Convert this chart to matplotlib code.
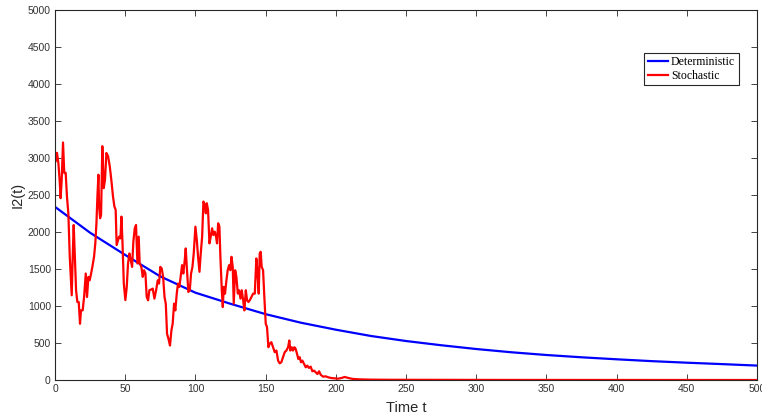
import numpy as np
import matplotlib
matplotlib.use('Agg')
import matplotlib.pyplot as plt

# deterministic curve, read every 25 time units
t_det = [0, 25, 50, 75, 100, 125, 150, 175, 200, 225, 250, 275, 300,
         325, 350, 375, 400, 425, 450, 475, 500]
i2_det = [2340, 1990, 1690, 1400, 1180, 1030, 890, 775, 680, 595, 527, 470, 419,
          375, 338, 307, 280, 255, 234, 215, 195]

# stochastic path
t_sto = [0, 0.5, 1.4, 2.4, 3.3, 4.0, 4.75, 5.7, 6.6, 7.6, 8.5, 9.5, 10.5, 11.2, 11.9,
         12.6, 13.3, 14.3, 15.0, 15.9, 16.9, 17.8, 18.5, 19.7, 20.7, 21.9, 22.8, 23.8,
         24.7, 25.7, 26.6, 27.8, 28.7, 29.5, 30.2, 30.9, 31.4, 32.1, 32.8, 33.7, 34.7,
         35.6, 36.6, 37.8, 39.0, 40.1, 41.3, 42.3, 43.2, 43.9, 44.9, 45.6, 46.6, 47.3,
         48.0, 49.0, 50.1, 51.1, 52.0, 53.0, 53.9, 54.9, 55.8, 56.8, 57.7, 58.7, 59.6,
         60.3, 61.5, 62.5, 63.4, 64.4, 65.3, 66.3, 67.2, 68.4, 69.6, 70.8, 72.0, 73.2,
         74.1, 75.0, 76.0, 77.0, 78.0, 78.9, 79.8, 80.8, 81.9, 82.9, 83.8, 84.8, 85.7,
         86.7, 87.6, 88.6, 89.5, 90.5, 91.4, 92.4, 93.1, 94.0, 95.0, 96.0, 96.9, 97.9,
         98.8, 100.0, 101.0, 101.9, 102.9, 103.8, 104.8, 105.7, 106.7, 107.4, 108.1,
         109.0, 110.0, 110.9, 111.9, 112.8, 113.8, 114.7, 115.4, 116.2, 117.1, 117.8,
         118.8, 119.5, 120.2, 121.1, 122.1, 123.0, 124.0, 124.9, 125.7, 126.6, 127.3,
         128.3, 129.2, 130.2, 131.1, 132.1, 133.0, 134.0, 134.9, 135.9, 136.8, 137.8,
         138.7, 139.9, 141.1, 142.3, 143.4, 144.1, 145.1, 145.8, 146.5, 147.2, 148.2,
         149.1, 150.1, 151.0, 152.0, 152.9, 154.1, 155.3, 156.5, 157.7, 158.9, 160.0,
         161.2, 162.4, 163.6, 164.8, 166.0, 166.9, 167.6, 168.6, 169.5, 170.5, 171.4,
         172.4, 173.3, 174.3, 175.2, 176.2, 177.4, 178.6, 179.7, 180.9, 182.1, 183.3,
         184.5, 185.7, 186.9, 188.1, 189.2, 190.9, 192.8, 194.7, 196.8, 199.2, 201.6,
         204.0, 206.3, 208.0, 209.9, 212.3, 217.0, 225.0, 240.0, 270.0, 320.0, 400.0,
         500.0]
i2_sto = [2950, 2955, 3070, 2930, 2700, 2457, 2700, 3210, 2796, 2800, 2480, 2253, 1665,
          1394, 1145, 1665, 2095, 1575, 1213, 1054, 1054, 760, 941, 941, 1122, 1439,
          1122, 1394, 1348, 1439, 1529, 1665, 1846, 2118, 2480, 2774, 2344, 2186, 2231,
          3160, 2593, 2706, 3068, 3023, 2887, 2706, 2480, 2344, 2299, 1824, 1891, 1937,
          1914, 2208, 1891, 1303, 1080, 1258, 1575, 1710, 1620, 1529, 1869, 2050, 2095,
          1575, 1937, 1575, 1529, 1394, 1484, 1439, 1122, 1077, 1213, 1222, 1235, 1100,
          1213, 1348, 1303, 1529, 1507, 1394, 1122, 1032, 624, 557, 466, 670, 760, 1032,
          941, 1167, 1303, 1258, 1394, 1552, 1439, 1620, 1778, 1484, 1190, 1213, 1439,
          1529, 1710, 2072, 1891, 1665, 1462, 1710, 1937, 2412, 2367, 2253, 2389, 2299,
          1846, 1937, 2050, 1959, 2005, 1937, 1846, 2118, 2072, 1665, 1213, 986, 1258,
          1167, 1348, 1484, 1552, 1484, 1665, 1529, 1032, 1484, 1394, 1167, 1213, 1100,
          1213, 1077, 941, 1213, 1077, 1054, 1077, 1122, 1167, 1167, 1643, 1484, 1167,
          1710, 1733, 1529, 1484, 1122, 760, 715, 443, 489, 511, 443, 376, 398, 262, 226,
          240, 308, 376, 398, 443, 534, 398, 443, 398, 443, 421, 353, 285, 308, 240, 262,
          217, 172, 195, 163, 181, 118, 127, 104, 81, 118, 72, 45, 50, 36, 27, 23, 18,
          27, 41, 32, 23, 14, 9, 5, 3, 2, 1, 0.5, 0]

plt.rcParams['font.family'] = ['Liberation Sans', 'DejaVu Sans']

fig = plt.figure(figsize=(7.62, 4.17), dpi=100)
ax = fig.add_axes([0.0722, 0.0887, 0.9212, 0.8873])

ax.plot(t_det, i2_det, color='#0000ff', lw=1.6, label='Deterministic')
ax.plot(t_sto, i2_sto, color='#ff0000', lw=1.6, label='Stochastic')

ax.set_xlim(0, 500)
ax.set_ylim(0, 5000)
ax.set_xticks(np.arange(0, 501, 50))
ax.set_yticks(np.arange(0, 5001, 500))
ax.tick_params(direction='in', length=4.5, width=0.6, top=True, right=True,
               labelsize=7.5, labelcolor='#333333', color='#262626', pad=3)
for s in ax.spines.values():
    s.set_linewidth(0.8)
    s.set_color('#262626')

ax.set_xlabel('Time t', fontsize=10.5, color='#262626', labelpad=5)
ax.set_ylabel('I2(t)', fontsize=10.5, color='#262626', labelpad=2)

leg = ax.legend(loc='upper right', bbox_to_anchor=(0.974, 0.885), borderaxespad=0,
                prop={'family': 'Liberation Serif', 'size': 8.5}, fancybox=False,
                handlelength=1.7, handletextpad=0.25, borderpad=0.3, labelspacing=0.15,
                framealpha=1)
leg.get_frame().set_edgecolor('#262626')
leg.get_frame().set_linewidth(0.8)

plt.savefig('out.png', dpi=100)
